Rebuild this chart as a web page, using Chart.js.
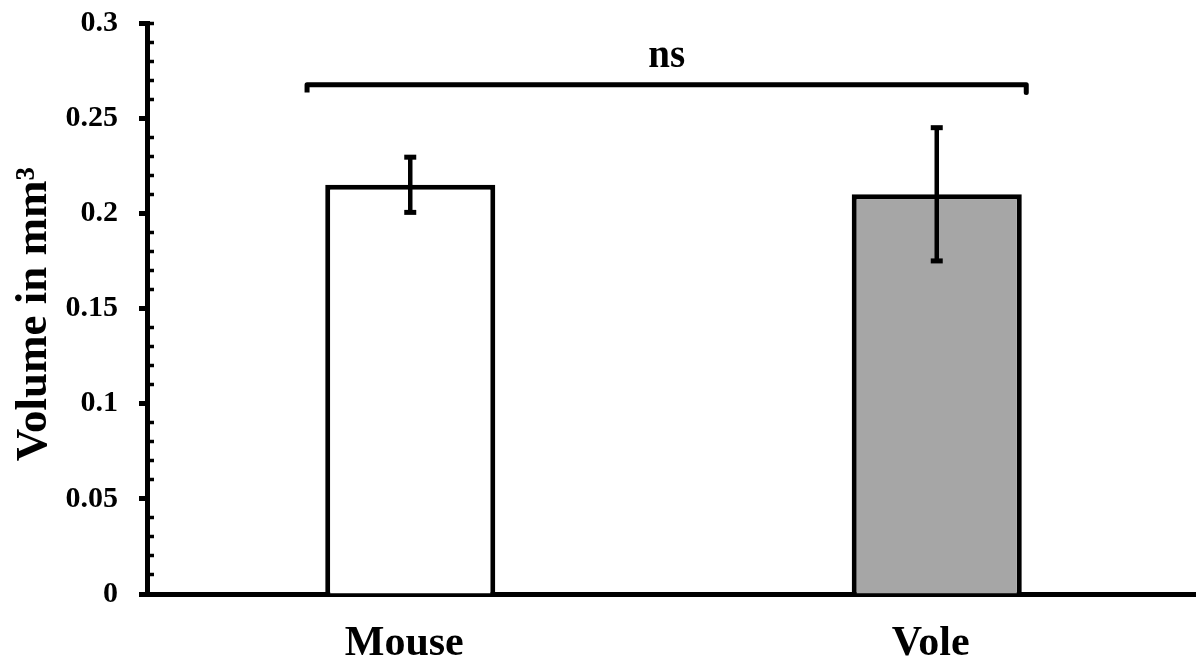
<!DOCTYPE html>
<html>
<head>
<meta charset="utf-8">
<script src="https://cdn.jsdelivr.net/npm/chart.js@4"></script>
<style>
  html, body { margin: 0; padding: 0; background: #fff; overflow: hidden; }
  #wrap { width: 1200px; height: 664px; }
</style>
</head>
<body>
<div id="wrap"><canvas id="c" width="1200" height="664"></canvas></div>
<script>
// ---- data ----
const categories = ['Mouse', 'Vole'];
const volumes = [0.215, 0.21];
const errors = [0.0145, 0.035];
const yTickLabels = ['0', '0.05', '0.1', '0.15', '0.2', '0.25', '0.3'];
const yTitle = 'Volume in mm\u00B3';
const comparisonLabel = 'ns';
const comparisonLevel = 0.2675;   // bracket height (mm³)
const comparisonDrop = 0.004;     // bracket end drop (mm³)
const comparisonFrom = -0.196;    // bracket left end (category units)
const comparisonTo = 1.17;        // bracket right end (category units)

const FONT = "'Liberation Serif', 'Times New Roman', serif";

const errorDatasets = volumes.map((v, i) => ({
  type: 'line',
  xAxisID: 'x2',
  yAxisID: 'y',
  data: [{ x: i, y: v - errors[i] }, { x: i, y: v + errors[i] }],
  borderColor: '#000',
  borderWidth: 4.5,
  pointStyle: 'line',
  pointRadius: 6,
  pointHoverRadius: 6,
  pointBorderWidth: 5,
  pointBorderColor: '#000',
  pointBackgroundColor: '#000',
  tension: 0,
  order: 0
}));

const bracketDataset = {
  type: 'line',
  xAxisID: 'x2',
  yAxisID: 'y',
  data: [
    { x: comparisonFrom, y: comparisonLevel - comparisonDrop },
    { x: comparisonFrom, y: comparisonLevel },
    { x: comparisonTo, y: comparisonLevel },
    { x: comparisonTo, y: comparisonLevel - comparisonDrop }
  ],
  borderColor: '#000',
  borderWidth: 5,
  borderJoinStyle: 'round',
  borderCapStyle: 'butt',
  pointRadius: 0,
  tension: 0,
  order: 0
};

const labelPlugin = {
  id: 'sigLabel',
  afterDatasetsDraw(chart) {
    const ctx = chart.ctx;
    const x2 = chart.scales.x2, y = chart.scales.y;
    const cx = x2.getPixelForValue((comparisonFrom + comparisonTo) / 2);
    const cy = y.getPixelForValue(comparisonLevel);
    ctx.save();
    ctx.fillStyle = '#000';
    ctx.font = 'bold 39px ' + FONT;
    ctx.textAlign = 'center';
    ctx.textBaseline = 'alphabetic';
    ctx.fillText(comparisonLabel, cx, cy - 18);
    ctx.restore();
  }
};

new Chart(document.getElementById('c'), {
  type: 'bar',
  data: {
    labels: categories,
    datasets: [
      {
        type: 'bar',
        xAxisID: 'x',
        yAxisID: 'y',
        data: volumes,
        backgroundColor: ['#ffffff', '#a6a6a6'],
        borderColor: '#000',
        borderWidth: 5,
        grouped: false,
        barPercentage: 1,
        categoryPercentage: 0.323,
        order: 1
      },
      ...errorDatasets,
      bracketDataset
    ]
  },
  options: {
    responsive: false,
    animation: false,
    devicePixelRatio: 1,
    events: [],
    layout: { autoPadding: false, padding: { top: 23, left: 0, right: 0, bottom: 0 } },
    plugins: { legend: { display: false }, tooltip: { enabled: false } },
    scales: {
      x: {
        type: 'category',
        position: 'bottom',
        offset: true,
        grid: { display: false, drawTicks: false, offset: true },
        border: { display: true, color: '#000', width: 5 },
        ticks: {
          color: '#000',
          font: { family: FONT, size: 42, weight: 'bold' },
          padding: 25,
          labelOffset: -6,
          maxRotation: 0,
          autoSkip: false
        },
        afterFit(s) { s.height = 70; s.paddingLeft = 0; s.paddingRight = 0; }
      },
      x2: {
        type: 'linear',
        display: false,
        offset: false,
        grid: { offset: false },
        min: -0.5,
        max: 1.5
      },
      y: {
        type: 'linear',
        position: 'left',
        weight: 1,
        min: 0,
        max: 0.3,
        grid: {
          drawOnChartArea: false,
          drawTicks: true,
          tickLength: 8,
          tickWidth: 5,
          tickColor: '#000'
        },
        border: { display: true, color: '#000', width: 5 },
        ticks: {
          stepSize: 0.05,
          color: '#000',
          padding: 21,
          font: { family: FONT, size: 30, weight: 'bold' },
          callback: (v, i) => yTickLabels[i]
        },
        title: {
          display: true,
          text: yTitle + ' ',
          color: '#000',
          font: { family: FONT, size: 45, weight: 'bold' },
          padding: { top: 7, bottom: 0 }
        },
        afterFit(s) { s.width = 147; s.paddingTop = 0; s.paddingBottom = 0; }
      },
      yMinor: {
        type: 'linear',
        position: 'left',
        weight: 0,
        min: 0,
        max: 0.3,
        grid: {
          drawOnChartArea: false,
          drawTicks: true,
          tickLength: -7,
          tickWidth: 3.5,
          tickColor: (c) => {
            const k = Math.round(c.tick.value * 100);
            return (k % 5 === 0 && k !== 30) ? 'rgba(0,0,0,0)' : '#000';
          }
        },
        border: { display: false },
        ticks: { display: true, stepSize: 0.01, callback: () => '', padding: 0, font: { size: 1 } },
        afterFit(s) { s.width = 0; s.paddingTop = 0; s.paddingBottom = 0; }
      }
    }
  },
  plugins: [labelPlugin]
});
</script>
</body>
</html>
